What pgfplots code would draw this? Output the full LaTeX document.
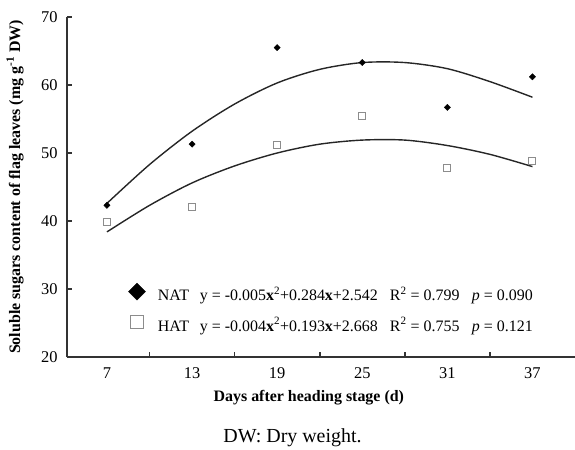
\documentclass[border=0pt]{standalone}
\usepackage{fontspec}
\setmainfont{Liberation Serif}
\usepackage{pgfplots}
\pgfplotsset{compat=1.18}
\definecolor{axisgray}{HTML}{333333}
\definecolor{hatgray}{HTML}{8C8C8C}
\begin{document}
\begin{tikzpicture}
\begin{axis}[
  scale only axis, width=508bp, height=340bp,
  xmin=-0.47, xmax=5.5, ymin=20, ymax=70,
  axis lines*=left,
  axis line style={line width=1.6bp, color=axisgray},
  tick align=inside,
  major tick length=5bp,
  tick style={line width=1.6bp, color=axisgray},
  ytick={20,30,40,50,60,70},
  xtick={0.5,1.5,2.5,3.5,4.5}, xticklabels={},
  extra x ticks={0,1,2,3,4,5},
  extra x tick labels={7,13,19,25,31,37},
  extra x tick style={major tick length=0pt},
  /pgf/number format/assume math mode=true,
  tick label style={font=\fontsize{16.5}{18}\selectfont},
  yticklabel style={xshift=-6bp},
  xticklabel style={yshift=-7bp},
  xlabel={\textbf{Days after heading stage (d)}},
  ylabel={\textbf{Soluble sugars content of flag leaves (mg g\textsuperscript{-1} DW)}},
  label style={font=\fontsize{16}{18}\selectfont},
  x label style={at={(axis description cs:0.476,-0.1206)}, anchor=center},
  y label style={at={(axis description cs:-0.1024,0.5)}, anchor=center},
  legend cell align=left,
  legend image code/.code={\draw[#1] plot coordinates {(0bp,5.3bp)};},
  legend style={draw=none, fill=none, inner sep=0pt, outer sep=0pt,
    at={(0.1211,0.2171)}, anchor=north west,
    row sep=10.3bp, column sep=12.5bp,
    nodes={inner sep=0pt, text height=12bp, text depth=4bp, font=\fontsize{16}{18}\selectfont}},
]
% fitted curves
\addplot[smooth, line width=1.4bp, color=black!85, forget plot] coordinates {
  (0,42.6) (0.5,48.3) (1,53.2) (1.5,57.2) (2,60.3) (2.5,62.3) (3,63.3) (3.5,63.3) (4,62.4) (4.5,60.5) (5,58.2)};
\addplot[smooth, line width=1.4bp, color=black!85, forget plot] coordinates {
  (0,38.4) (0.5,42.3) (1,45.6) (1.5,48.1) (2,50.0) (2.5,51.3) (3,51.9) (3.5,51.9) (4,51.1) (4.5,49.8) (5,48.0)};
% data points
\addplot[only marks, mark=square*, mark size=2.2bp, mark options={rotate=45, fill=black, draw=black}, forget plot] coordinates {
  (0,42.3) (1,51.3) (2,65.5) (3,63.3) (4,56.7) (5,61.2)};
\addplot[only marks, mark=square, mark size=3.5bp, mark options={draw=hatgray, fill=white, line width=1bp}, forget plot] coordinates {
  (0,39.9) (1,42.1) (2,51.2) (3,55.5) (4,47.8) (5,48.8)};
% legend
\addlegendimage{only marks, mark=square*, mark size=6bp, mark options={rotate=45, fill=black, draw=black}}
\addlegendentry{\makebox[42bp][l]{NAT}\makebox[190bp][l]{y = -0.005\textbf{x}\textsuperscript{2}+0.284\textbf{x}+2.542}\makebox[82bp][l]{R\textsuperscript{2} = 0.799}\textit{p} = 0.090}
\addlegendimage{only marks, mark=square, mark size=6.6bp, mark options={draw=hatgray, fill=white, line width=1.2bp}}
\addlegendentry{\makebox[42bp][l]{HAT}\makebox[190bp][l]{y = -0.004\textbf{x}\textsuperscript{2}+0.193\textbf{x}+2.668}\makebox[82bp][l]{R\textsuperscript{2} = 0.755}\textit{p} = 0.121}
\end{axis}
\node[font=\fontsize{20}{22}\selectfont] at (225.5bp,-81bp) {DW: Dry weight.};
\pgfresetboundingbox
\path (-67bp,-93bp) rectangle (508bp,357bp);
\end{tikzpicture}
\end{document}
